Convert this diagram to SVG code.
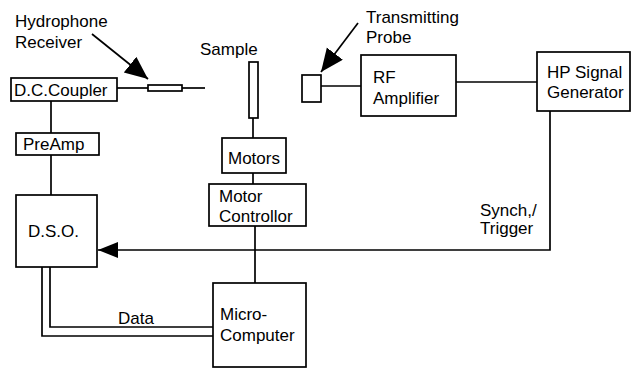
<svg xmlns="http://www.w3.org/2000/svg" width="632" height="370" viewBox="0 0 632 370">
<style>
.box{fill:#fff;stroke:#000;stroke-width:1.7}
.ln{fill:none;stroke:#000;stroke-width:1.7}
text{font-family:"Liberation Sans",Arial,sans-serif;font-size:17px;fill:#000}
</style>
<defs>
<marker id="big" markerUnits="userSpaceOnUse" markerWidth="26" markerHeight="22" refX="23" refY="10" orient="auto" viewBox="0 0 26 22">
<path d="M0,0 L23,10 L0,20 z" fill="#000"/>
</marker>
<marker id="tri" markerUnits="userSpaceOnUse" markerWidth="22" markerHeight="18" refX="20" refY="8" orient="auto" viewBox="0 0 22 18">
<path d="M0,0 L20,8 L0,16 z" fill="#000"/>
</marker>
</defs>
<rect width="632" height="370" fill="#fff"/>
<g id="connectors">
<line class="ln" x1="117" y1="88" x2="148" y2="88"/>
<line class="ln" x1="182" y1="88" x2="205" y2="88"/>
<line class="ln" x1="51" y1="101" x2="51" y2="133"/>
<line class="ln" x1="51" y1="155" x2="51" y2="195"/>
<line class="ln" x1="253" y1="118" x2="253" y2="138"/>
<line class="ln" x1="253" y1="173" x2="253" y2="184"/>
<line class="ln" x1="255" y1="226" x2="255" y2="283"/>
<line class="ln" x1="321" y1="86" x2="361" y2="86"/>
<line class="ln" x1="456" y1="82" x2="537" y2="82"/>
<path class="ln" d="M550,111 V250 H98" marker-end="url(#tri)"/>
<path class="ln" d="M42,267 V336 H213"/>
<path class="ln" d="M50,267 V327 H213"/>
<line class="ln" x1="92" y1="34" x2="148" y2="79" marker-end="url(#big)"/>
<line class="ln" x1="358" y1="23" x2="321" y2="72" marker-end="url(#big)"/>
</g>
<g id="hydrophone-label"><text x="15" y="27">Hydrophone</text><text x="15" y="48">Receiver</text></g>
<g id="hydrophone"><rect class="box" x="148" y="85" width="34" height="6"/></g>
<g id="sample"><text x="200" y="55">Sample</text><rect class="box" x="249" y="62" width="9" height="56"/></g>
<g id="probe-label"><text x="366" y="23">Transmitting</text><text x="366" y="43">Probe</text></g>
<g id="probe"><rect class="box" x="302" y="75" width="19" height="27"/></g>
<g id="dc-coupler"><rect class="box" x="11" y="78" width="106" height="23"/><text x="14" y="96">D.C.Coupler</text></g>
<g id="preamp"><rect class="box" x="16" y="133" width="83" height="22"/><text x="23" y="150">PreAmp</text></g>
<g id="dso"><rect class="box" x="16" y="195" width="81" height="72"/><text x="28" y="237">D.S.O.</text></g>
<g id="motors"><rect class="box" x="222" y="138" width="64" height="35"/><text x="228" y="164">Motors</text></g>
<g id="motor-controller"><rect class="box" x="209" y="184" width="97" height="42"/><text x="219" y="202">Motor</text><text x="219" y="222">Controllor</text></g>
<g id="micro-computer"><rect class="box" x="213" y="283" width="93" height="84"/><text x="220" y="320">Micro-</text><text x="220" y="341">Computer</text></g>
<g id="rf-amplifier"><rect class="box" x="361" y="55" width="95" height="61"/><text x="373" y="83">RF</text><text x="373" y="104">Amplifier</text></g>
<g id="hp-generator"><rect class="box" x="537" y="52" width="93" height="59"/><text x="547" y="78">HP Signal</text><text x="547" y="98">Generator</text></g>
<g id="labels"><text x="480" y="216">Synch,/</text><text x="480" y="234">Trigger</text><text x="118" y="324">Data</text></g>
</svg>
